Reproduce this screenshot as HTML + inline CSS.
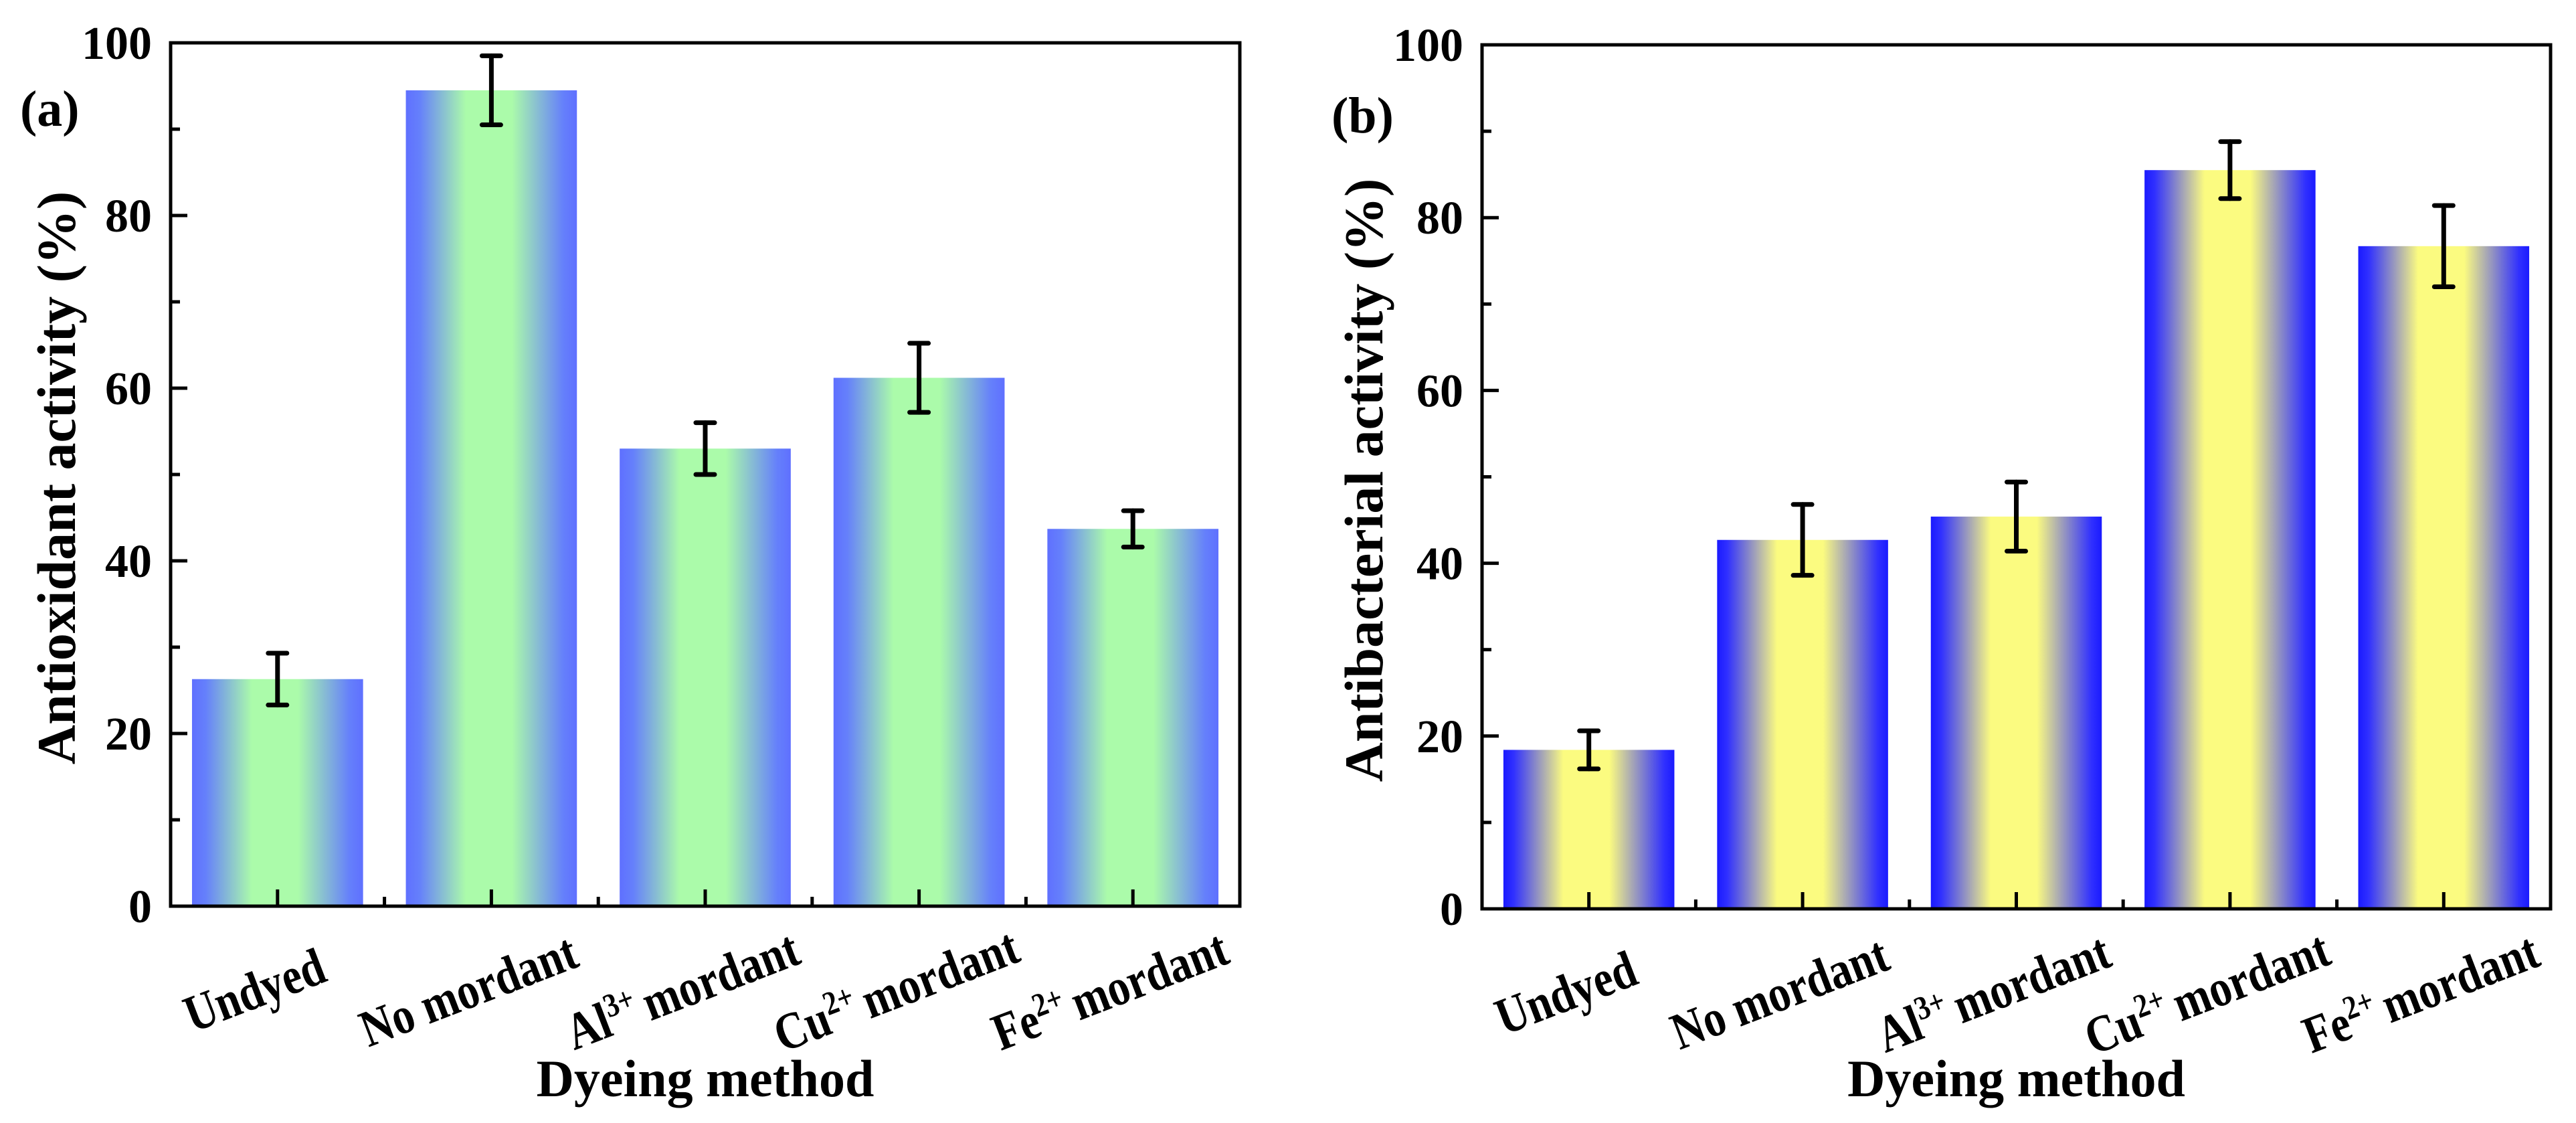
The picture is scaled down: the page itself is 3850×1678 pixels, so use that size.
<!DOCTYPE html>
<html><head><meta charset="utf-8"><style>
html,body{margin:0;padding:0;background:#fff;}
svg{display:block;font-family:"Liberation Serif",serif;font-weight:bold;}
</style></head><body>
<svg id="fig" width="3850" height="1678" viewBox="0 0 3850 1678" xmlns="http://www.w3.org/2000/svg">
<defs>
<linearGradient id="gA" x1="0" x2="1" y1="0" y2="0">
<stop offset="0" stop-color="#5f70ff"/><stop offset="0.08" stop-color="#6580fb"/><stop offset="0.35" stop-color="#abfbaa"/><stop offset="0.62" stop-color="#abfbaa"/><stop offset="0.92" stop-color="#6580fb"/><stop offset="1" stop-color="#5f70ff"/>
</linearGradient>
<linearGradient id="gB" x1="0" x2="1" y1="0" y2="0">
<stop offset="0" stop-color="#1a1aff"/><stop offset="0.06" stop-color="#3030ff"/><stop offset="0.35" stop-color="#fbfb80"/><stop offset="0.62" stop-color="#fbfb80"/><stop offset="0.94" stop-color="#3030ff"/><stop offset="1" stop-color="#1a1aff"/>
</linearGradient>
</defs>
</svg>
<script>
const categories = ["Undyed", "No mordant", "Al|3+|mordant", "Cu|2+|mordant", "Fe|2+|mordant"];
const antioxValues = [26.3, 94.5, 53.0, 61.2, 43.7];
const antioxErrors = [3.0, 4.0, 3.0, 4.0, 2.1];
const antibacValues = [18.4, 42.7, 45.4, 85.5, 76.7];
const antibacErrors = [2.2, 4.1, 4.0, 3.3, 4.7];
const yTicks = [0, 20, 40, 60, 80, 100];
const yMinorTicks = [10, 30, 50, 70, 90];

const NS = "http://www.w3.org/2000/svg";
const svg = document.getElementById("fig");
function mk(tag, attrs, parent) {
  const e = document.createElementNS(NS, tag);
  for (const k in attrs) e.setAttribute(k, attrs[k]);
  (parent || svg).appendChild(e);
  return e;
}
function addLabel(t, str) {
  const parts = str.split("|");
  parts.forEach((p, i) => {
    const ts = document.createElementNS(NS, "tspan");
    if (i === 1) { ts.setAttribute("baseline-shift", "super"); ts.setAttribute("font-size", "50"); }
    if (i === 2) { ts.setAttribute("dx", "14"); }
    ts.textContent = p;
    t.appendChild(ts);
  });
}

function panel(cfg) {
  const g = mk("g", {});
  
  
  const L = cfg.left, R = cfg.right, T = cfg.top, B = cfg.bottom;
  const n = categories.length;
  const step = (R - L) / n;
  const xc = i => L + step * (i + 0.5);
  const y = v => B - (v / 100) * (B - T);
  const bw = step * 0.8;

  cfg.values.forEach((v, i) => {
    const r = mk("rect", {x: xc(i) - bw / 2, y: y(v), width: bw, height: B - y(v), fill: cfg.fill}, g);
    
    
  });
  cfg.values.forEach((v, i) => {
    const e = cfg.errors[i];
    const eg = mk("g", {stroke: "#000", "stroke-width": 7, "stroke-linecap": "round"}, g);
    
    
    mk("line", {x1: xc(i), x2: xc(i), y1: y(v + e), y2: y(v - e)}, eg);
    mk("line", {x1: xc(i) - 14, x2: xc(i) + 14, y1: y(v + e), y2: y(v + e)}, eg);
    mk("line", {x1: xc(i) - 14, x2: xc(i) + 14, y1: y(v - e), y2: y(v - e)}, eg);
  });

  const ax = mk("g", {stroke: "#000", "stroke-width": 5, fill: "none"}, g);
  
  
  mk("rect", {x: L, y: T, width: R - L, height: B - T}, ax);
  yTicks.forEach(t => mk("line", {x1: L, x2: L + 25, y1: y(t), y2: y(t)}, ax));
  yMinorTicks.forEach(t => mk("line", {x1: L, x2: L + 14, y1: y(t), y2: y(t)}, ax));
  categories.forEach((c, i) => mk("line", {x1: xc(i), x2: xc(i), y1: B, y2: B - 25}, ax));
  for (let i = 1; i < n; i++) mk("line", {x1: L + step * i, x2: L + step * i, y1: B, y2: B - 14}, ax);

  yTicks.forEach(t => {
    const tx = mk("text", {x: L - 28, y: y(t) + 24, "text-anchor": "end", "font-size": 70}, g);
    
    
    tx.textContent = t;
  });
  categories.forEach((c, i) => {
    const cx = xc(i) - 25, cy = B + 150;
    const tx = mk("text", {x: 0, y: 0, "text-anchor": "middle", "font-size": 78, transform: `translate(${cx} ${cy}) rotate(-21) scale(0.84 1)`}, g);
    
    
    addLabel(tx, c);
  });
  const xt = mk("text", {x: (L + R) / 2, y: 1638, "text-anchor": "middle", "font-size": 78}, g);
  
  
  xt.textContent = "Dyeing method";
  const ym = (T + B) / 2 + 5;
  const yt = mk("text", {x: cfg.ytx, y: ym, "text-anchor": "middle", "font-size": 82, transform: `rotate(-90 ${cfg.ytx} ${ym})`}, g);
  
  
  yt.textContent = cfg.ytitle;
  const pl = mk("text", {x: cfg.lx, y: cfg.ly, "font-size": 76}, g);
  
  
  pl.textContent = cfg.label;
}

panel({name: "panel-a-antioxidant", left: 255, right: 1853, top: 64, bottom: 1354,
  values: antioxValues, errors: antioxErrors, fill: "url(#gA)",
  ytitle: "Antioxidant activity (%)", ytx: 112, label: "(a)", lx: 30, ly: 188});
panel({name: "panel-b-antibacterial", left: 2215, right: 3812, top: 67, bottom: 1358,
  values: antibacValues, errors: antibacErrors, fill: "url(#gB)",
  ytitle: "Antibacterial activity (%)", ytx: 2066, label: "(b)", lx: 1990, ly: 198});
</script>
</body></html>
